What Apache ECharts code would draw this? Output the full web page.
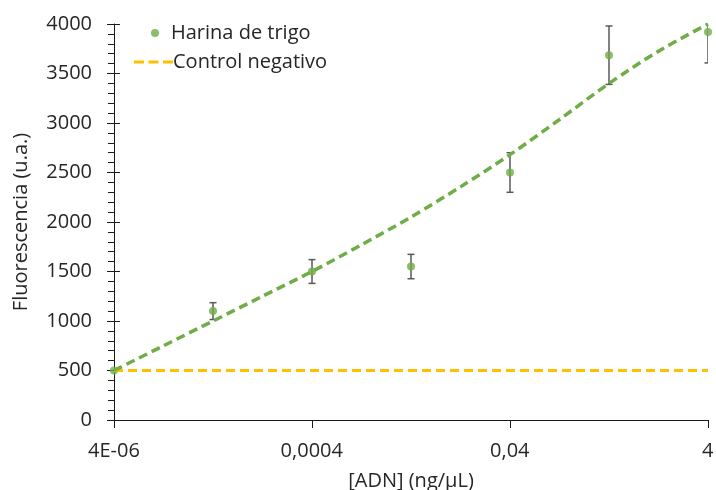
<!DOCTYPE html>
<html>
<head>
<meta charset="utf-8">
<script src="https://cdn.jsdelivr.net/npm/echarts@6/dist/echarts.min.js"></script>
<style>html,body{margin:0;padding:0;background:#fff}#c{width:716px;height:490px}</style>
</head>
<body>
<div id="c"></div>
<script>
const concentrations = [4e-6, 4e-5, 4e-4, 4e-3, 4e-2, 4e-1, 4];
const harinaValues = [500, 1100, 1500, 1550, 2500, 3685, 3920];
const harinaErrors = [0, 85, 120, 123, 200, 295, 313];
const trendX = [4e-6, 1.265e-5, 4e-5, 1.265e-4, 4e-4, 1.265e-3, 4e-3, 1.265e-2, 4e-2, 1.265e-1, 4e-1, 1.265, 4];
const trendValues = [500, 750, 1000, 1250, 1500, 1770, 2050, 2355, 2680, 3035, 3400, 3725, 4000];
const controlX = [4e-6, 4];
const controlValues = [500, 500];
const xTickLabels = ['4E-06', '0,0004', '0,04', '4'];
const yTicks = [0, 500, 1000, 1500, 2000, 2500, 3000, 3500, 4000];

const FONT = 'Open Sans';
const FS = 20;
const GREEN = '#70AD47', YELLOW = '#FFC000', ERR = '#595959', AX = '#1a1a1a', TXT = '#262626';

const chart = echarts.init(document.getElementById('c'));
chart.setOption({
  animation: false,
  textStyle: {fontFamily: FONT},
  grid: {left: 114, right: 8, top: 24, bottom: 70, outerBoundsMode: 'none', containLabel: false},
  legend: [
    {data: ['Harina de trigo'], left: 146, top: 18, itemWidth: 8, itemHeight: 8, selectedMode: false,
     textStyle: {fontFamily: FONT, fontSize: FS, color: TXT, padding: [0, 0, 0, 7]}},
    {data: [{name: 'Control negativo', icon: 'path://M0,0h10v3h-10z M14.5,0h10v3h-10z M29,0h10v3h-10z'}],
     left: 129, top: 47, itemWidth: 39, itemHeight: 3, selectedMode: false,
     itemStyle: {color: YELLOW},
     textStyle: {fontFamily: FONT, fontSize: FS, color: TXT, padding: [0, 0, 0, -5]}}
  ],
  xAxis: {
    type: 'log', logBase: 10, min: 4e-6, max: 4, interval: 2,
    name: '[ADN] (ng/µL)', nameLocation: 'middle', nameGap: 51,
    nameTextStyle: {fontFamily: FONT, fontSize: FS, color: TXT},
    axisLine: {show: true, lineStyle: {color: AX, width: 1}},
    axisTick: {show: true, length: 8, lineStyle: {color: AX}},
    minorTick: {show: false},
    splitLine: {show: false},
    axisLabel: {margin: 21, fontFamily: FONT, fontSize: FS, color: TXT,
      formatter: function (v, i) { return xTickLabels[i] !== undefined ? xTickLabels[i] : ''; }}
  },
  yAxis: [{
    type: 'value', min: yTicks[0], max: yTicks[yTicks.length - 1], interval: 500,
    name: 'Fluorescencia (u.a.)', nameLocation: 'middle', nameGap: 83,
    nameTextStyle: {fontFamily: FONT, fontSize: FS, color: TXT},
    axisLine: {show: true, lineStyle: {color: AX, width: 1}},
    axisTick: {show: true, length: 7, lineStyle: {color: AX}},
    minorTick: {show: true, splitNumber: 5, length: 6, lineStyle: {color: AX}},
    splitLine: {show: false},
    axisLabel: {margin: 22, fontFamily: FONT, fontSize: FS, color: TXT,
      formatter: function (v) { return String(v); }}
  }, {
    type: 'value', min: yTicks[0], max: yTicks[yTicks.length - 1], interval: 500, position: 'left',
    axisLine: {show: false},
    axisTick: {show: true, inside: true, length: 6, lineStyle: {color: AX}},
    axisLabel: {show: false}, splitLine: {show: false}
  }],
  series: [
    {
      name: 'Harina de trigo', type: 'scatter', symbol: 'circle', symbolSize: 8, z: 3,
      itemStyle: {color: GREEN},
      data: concentrations.map((c, i) => [c, harinaValues[i]])
    },
    {
      name: 'Control negativo', type: 'line', showSymbol: false, symbol: 'none', z: 4,
      lineStyle: {color: YELLOW, width: 3, type: [9, 5]},
      itemStyle: {color: YELLOW},
      data: controlX.map((c, i) => [c, controlValues[i]])
    },
    {
      name: 'Tendencia', type: 'line', showSymbol: false, symbol: 'none', smooth: 0.3, z: 5,
      lineStyle: {color: GREEN, width: 3.5, type: [9, 5]},
      data: trendX.map((c, i) => [c, trendValues[i]])
    },
    {
      name: 'errores', type: 'custom', z: 2, clip: true,
      encode: {x: 0, y: [1, 2]},
      data: concentrations.map((c, i) => [c, harinaValues[i] - harinaErrors[i], harinaValues[i] + harinaErrors[i]])
        .filter((d, i) => harinaErrors[i] > 0),
      renderItem: function (params, api) {
        const x = api.value(0);
        const lo = api.coord([x, api.value(1)]);
        const hi = api.coord([x, api.value(2)]);
        const cw = 3.5;
        const st = {stroke: ERR, lineWidth: 1.5};
        return {type: 'group', children: [
          {type: 'line', shape: {x1: lo[0], y1: lo[1], x2: hi[0], y2: hi[1]}, style: st},
          {type: 'line', shape: {x1: lo[0] - cw, y1: lo[1], x2: lo[0] + cw, y2: lo[1]}, style: st},
          {type: 'line', shape: {x1: hi[0] - cw, y1: hi[1], x2: hi[0] + cw, y2: hi[1]}, style: st}
        ]};
      }
    }
  ]
});
</script>
</body>
</html>
